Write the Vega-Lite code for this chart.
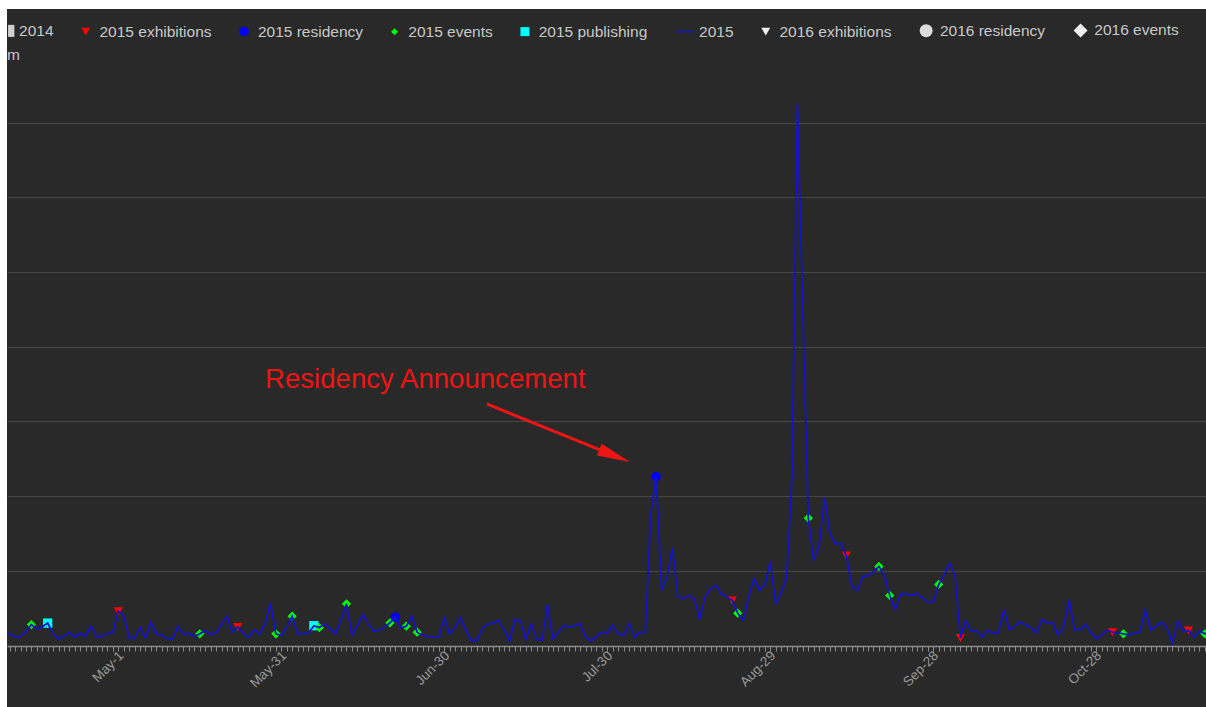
{
  "$schema": "https://vega.github.io/schema/vega-lite/v6.json",
  "width": 1199,
  "height": 698,
  "autosize": {"type": "none"},
  "padding": {"left": 7, "top": 9, "right": 0, "bottom": 0},
  "background": "#ffffff",
  "config": {
    "font": "Liberation Sans",
    "view": {"fill": "#292929", "stroke": null}
  },
  "datasets": {
    "notes": [
      {"label": "Residency Announcement", "d": "2015-05-27T00:00:00Z", "v": 344.7},
      {"label": "m", "d": "2015-04-09T12:20:00Z", "v": 783.8}
    ],
    "arrow": [
      {"d": "2015-07-06T20:40:00Z", "v": 323.3, "d2": "2015-07-30T15:07:00Z", "v2": 253.1}
    ],
    "arrowhead": [
      {"d": "2015-08-02T04:20:00Z", "v": 245.6}
    ]
  },
  "data": {"values": [
    {"d":"2015-04-09","v":20},{"d":"2015-04-10","v":15},{"d":"2015-04-11","v":12},{"d":"2015-04-12","v":12},{"d":"2015-04-13","v":19},
    {"d":"2015-04-14","v":28,"s":"2015 events"},{"d":"2015-04-15","v":22},{"d":"2015-04-16","v":25},{"d":"2015-04-17","v":30,"s":"2015 publishing"},
    {"d":"2015-04-18","v":16},{"d":"2015-04-19","v":8.5},{"d":"2015-04-20","v":12.5},{"d":"2015-04-21","v":18},{"d":"2015-04-22","v":11},
    {"d":"2015-04-23","v":16.5},{"d":"2015-04-24","v":12.5},{"d":"2015-04-25","v":26},{"d":"2015-04-26","v":12},{"d":"2015-04-27","v":12},
    {"d":"2015-04-28","v":16},{"d":"2015-04-29","v":17.5},{"d":"2015-04-30","v":46,"s":"2015 exhibitions"},
    {"d":"2015-05-01","v":40},{"d":"2015-05-02","v":10},{"d":"2015-05-03","v":10},{"d":"2015-05-04","v":24},{"d":"2015-05-05","v":10},
    {"d":"2015-05-06","v":31},{"d":"2015-05-07","v":15.6},{"d":"2015-05-08","v":14.3},{"d":"2015-05-09","v":9},{"d":"2015-05-10","v":8.5},
    {"d":"2015-05-11","v":25.5},{"d":"2015-05-12","v":14.7},{"d":"2015-05-13","v":16.5},{"d":"2015-05-14","v":12},{"d":"2015-05-15","v":15.6,"s":"2015 events"},
    {"d":"2015-05-16","v":20},{"d":"2015-05-17","v":14.7},{"d":"2015-05-18","v":17},{"d":"2015-05-19","v":28},{"d":"2015-05-20","v":39},
    {"d":"2015-05-21","v":18},{"d":"2015-05-22","v":24.6,"s":"2015 exhibitions"},{"d":"2015-05-23","v":16.5},{"d":"2015-05-24","v":11},
    {"d":"2015-05-25","v":21},{"d":"2015-05-26","v":15.6},{"d":"2015-05-27","v":29},{"d":"2015-05-28","v":56.7},{"d":"2015-05-29","v":15.6,"s":"2015 events"},
    {"d":"2015-05-30","v":13.4},{"d":"2015-05-31","v":24},
    {"d":"2015-06-01","v":39.3,"s":"2015 events"},{"d":"2015-06-02","v":15.7},{"d":"2015-06-03","v":15.5},{"d":"2015-06-04","v":16.5},
    {"d":"2015-06-05","v":26.5,"s":"2015 publishing"},{"d":"2015-06-06","v":24,"s":"2015 events"},{"d":"2015-06-07","v":29},{"d":"2015-06-08","v":22.3},
    {"d":"2015-06-09","v":15.6},{"d":"2015-06-10","v":33.5},{"d":"2015-06-11","v":55.8,"s":"2015 events"},{"d":"2015-06-12","v":13.4},
    {"d":"2015-06-13","v":26.8},{"d":"2015-06-14","v":41.5},{"d":"2015-06-15","v":29},{"d":"2015-06-16","v":19.2},{"d":"2015-06-17","v":20.1},
    {"d":"2015-06-18","v":24.6},{"d":"2015-06-19","v":30.4,"s":"2015 events"},{"d":"2015-06-20","v":38,"s":"2015 residency"},{"d":"2015-06-21","v":23.7},
    {"d":"2015-06-22","v":25.9,"s":"2015 events"},{"d":"2015-06-23","v":38.9},{"d":"2015-06-24","v":17.9,"s":"2015 events"},{"d":"2015-06-25","v":13.4},
    {"d":"2015-06-26","v":12.1},{"d":"2015-06-27","v":11.2},{"d":"2015-06-28","v":11.2},{"d":"2015-06-29","v":37.1},{"d":"2015-06-30","v":15.6},
    {"d":"2015-07-01","v":24.6},{"d":"2015-07-02","v":37.1},{"d":"2015-07-03","v":20.1},{"d":"2015-07-04","v":6.7},{"d":"2015-07-05","v":6.7},
    {"d":"2015-07-06","v":23},{"d":"2015-07-07","v":28.5},{"d":"2015-07-08","v":30},{"d":"2015-07-09","v":34},{"d":"2015-07-10","v":21},
    {"d":"2015-07-11","v":6},{"d":"2015-07-12","v":34.4},{"d":"2015-07-13","v":33.5},{"d":"2015-07-14","v":7.8},{"d":"2015-07-15","v":29},
    {"d":"2015-07-16","v":8},{"d":"2015-07-17","v":7},{"d":"2015-07-18","v":55.5},{"d":"2015-07-19","v":8.9},{"d":"2015-07-20","v":17.9},
    {"d":"2015-07-21","v":26.8},{"d":"2015-07-22","v":25},{"d":"2015-07-23","v":26.4},{"d":"2015-07-24","v":29.5},{"d":"2015-07-25","v":11.2},
    {"d":"2015-07-26","v":6},{"d":"2015-07-27","v":12.1},{"d":"2015-07-28","v":17.9},{"d":"2015-07-29","v":16.5},{"d":"2015-07-30","v":27.7},
    {"d":"2015-07-31","v":15.5},
    {"d":"2015-08-01","v":13.4},{"d":"2015-08-02","v":29.5},{"d":"2015-08-03","v":11.2},{"d":"2015-08-04","v":17.9},{"d":"2015-08-05","v":17.9},
    {"d":"2015-08-06","v":176},{"d":"2015-08-07","v":226,"s":"2015 residency"},{"d":"2015-08-08","v":73.7},{"d":"2015-08-09","v":91.6},
    {"d":"2015-08-10","v":131},{"d":"2015-08-11","v":64.8},{"d":"2015-08-12","v":62.5},{"d":"2015-08-13","v":67},{"d":"2015-08-14","v":62.5},
    {"d":"2015-08-15","v":35.7},{"d":"2015-08-16","v":64.8},{"d":"2015-08-17","v":75.9},{"d":"2015-08-18","v":80.4},{"d":"2015-08-19","v":69.2},
    {"d":"2015-08-20","v":64.8},{"d":"2015-08-21","v":60.3,"s":"2015 exhibitions"},{"d":"2015-08-22","v":43.3,"s":"2015 events"},{"d":"2015-08-23","v":33.5},
    {"d":"2015-08-24","v":64.8},{"d":"2015-08-25","v":89.3},{"d":"2015-08-26","v":73.7},{"d":"2015-08-27","v":81.7},{"d":"2015-08-28","v":111.6},
    {"d":"2015-08-29","v":55.8},{"d":"2015-08-30","v":71.5},{"d":"2015-08-31","v":89.3},
    {"d":"2015-09-01","v":228},{"d":"2015-09-02","v":725},{"d":"2015-09-03","v":445},{"d":"2015-09-04","v":170.6,"s":"2015 events"},
    {"d":"2015-09-05","v":113.9},{"d":"2015-09-06","v":134},{"d":"2015-09-07","v":197.9},{"d":"2015-09-08","v":149.6},{"d":"2015-09-09","v":136.2},
    {"d":"2015-09-10","v":136.2},{"d":"2015-09-11","v":120.6,"s":"2015 exhibitions"},{"d":"2015-09-12","v":80.4},{"d":"2015-09-13","v":73.7},
    {"d":"2015-09-14","v":91.6},{"d":"2015-09-15","v":93.8},{"d":"2015-09-16","v":98.3},{"d":"2015-09-17","v":105.9,"s":"2015 events"},
    {"d":"2015-09-18","v":93.8},{"d":"2015-09-19","v":67,"s":"2015 events"},{"d":"2015-09-20","v":47.8},{"d":"2015-09-21","v":69.2},
    {"d":"2015-09-22","v":69.2},{"d":"2015-09-23","v":67},{"d":"2015-09-24","v":69.2},{"d":"2015-09-25","v":63.9},{"d":"2015-09-26","v":58.1},
    {"d":"2015-09-27","v":58.1},{"d":"2015-09-28","v":81.7,"s":"2015 events"},{"d":"2015-09-29","v":93.8},{"d":"2015-09-30","v":110.3},
    {"d":"2015-10-01","v":93.8},{"d":"2015-10-02","v":10,"s":"2015 exhibitions"},{"d":"2015-10-03","v":33},{"d":"2015-10-04","v":19.2},
    {"d":"2015-10-05","v":19.6},{"d":"2015-10-06","v":11.2},{"d":"2015-10-07","v":20.1},{"d":"2015-10-08","v":16.5},{"d":"2015-10-09","v":17},
    {"d":"2015-10-10","v":47.8},{"d":"2015-10-11","v":21},{"d":"2015-10-12","v":25.5},{"d":"2015-10-13","v":31.3},{"d":"2015-10-14","v":27.7},
    {"d":"2015-10-15","v":24.6},{"d":"2015-10-16","v":16.5},{"d":"2015-10-17","v":34.8},{"d":"2015-10-18","v":30.4},{"d":"2015-10-19","v":30.4},
    {"d":"2015-10-20","v":14.3},{"d":"2015-10-21","v":24.6},{"d":"2015-10-22","v":61.2},{"d":"2015-10-23","v":21},{"d":"2015-10-24","v":21},
    {"d":"2015-10-25","v":28.1},{"d":"2015-10-26","v":17.9},{"d":"2015-10-27","v":8.9},{"d":"2015-10-28","v":14.3},{"d":"2015-10-29","v":20.1},
    {"d":"2015-10-30","v":17.9,"s":"2015 exhibitions"},{"d":"2015-10-31","v":17},
    {"d":"2015-11-01","v":15.6,"s":"2015 events"},{"d":"2015-11-02","v":14.7},{"d":"2015-11-03","v":16.5},{"d":"2015-11-04","v":17.9},
    {"d":"2015-11-05","v":46.9},{"d":"2015-11-06","v":21},{"d":"2015-11-07","v":25.5},{"d":"2015-11-08","v":30.8},{"d":"2015-11-09","v":23.7},
    {"d":"2015-11-10","v":3.1},{"d":"2015-11-11","v":32.6},{"d":"2015-11-12","v":19.2},{"d":"2015-11-13","v":20.1,"s":"2015 exhibitions"},
    {"d":"2015-11-14","v":11.2},{"d":"2015-11-15","v":19.2},{"d":"2015-11-16","v":15.6,"s":"2015 events"},{"d":"2015-11-17","v":18}
  ]},
  "encoding": {
    "x": {
      "field": "d", "type": "temporal",
      "scale": {"type": "utc", "domain": [
        {"year": 2015, "month": "apr", "date": 9, "hours": 12, "minutes": 20, "utc": true},
        {"year": 2015, "month": "nov", "date": 16, "hours": 4, "minutes": 50, "utc": true}
      ]},
      "axis": {
        "title": null, "grid": false, "offset": -61,
        "tickCount": {"interval": "day", "step": 1},
        "labelExpr": "((datum.value - utc(2015,4,1)) / 86400000) % 30 === 0 ? utcFormat(datum.value, '%b-%-d') : ''",
        "labelAngle": -45, "labelAlign": "right", "labelBaseline": "alphabetic",
        "labelOverlap": false, "labelBound": false, "labelFlush": false,
        "labelColor": "#9a9a9a", "labelFont": "Liberation Sans", "labelFontSize": 13.5, "labelPadding": 5,
        "tickColor": "#8c8c8c", "tickSize": 5, "tickWidth": 1,
        "domainColor": "#8c8c8c", "domainWidth": 1.5
      }
    },
    "y": {
      "field": "v", "type": "quantitative",
      "scale": {"domain": [-82.3, 852], "nice": false, "zero": false},
      "axis": {"title": null, "values": [0, 100, 200, 300, 400, 500, 600, 700], "labels": false, "ticks": false, "domain": false, "grid": true, "gridColor": "#474747", "gridWidth": 1}
    }
  },
  "layer": [
    {
      "transform": [{"filter": "isValid(datum.s)"}],
      "mark": {"type": "point", "filled": true, "size": 86, "opacity": 1, "clip": true},
      "encoding": {
        "color": {
          "field": "s", "type": "nominal",
          "scale": {
            "domain": ["2014", "2015 exhibitions", "2015 residency", "2015 events", "2015 publishing", "2015", "2016 exhibitions", "2016 residency", "2016 events"],
            "range": ["#d0d0d0", "#ff0000", "#0000ff", "#00ff00", "#00ffff", "#1a1aa0", "#f0f0f0", "#dcdcdc", "#f0f0f0"]
          },
          "legend": {
            "title": null, "orient": "none", "legendX": -9.4, "legendY": 13.5,
            "direction": "horizontal", "columns": 9, "padding": 0,
            "symbolSize": 324, "labelOffset": 6, "columnPadding": 23.4,
            "labelFont": "Liberation Sans", "labelFontSize": 15.5, "labelColor": "#c8c8c8", "labelLimit": 0,
            "symbolOpacity": 1,
            "encode": {
              "symbols": {
                "update": {
                  "size": {"signal": "datum.value === '2014' || datum.value === '2015' ? 324 : datum.value === '2016 residency' ? 169 : datum.value === '2016 events' ? 196 : datum.value === '2015 events' ? 49 : datum.value === '2015 residency' ? 90 : 81"},
                  "stroke": {"signal": "datum.value === '2015' ? '#1a1aa0' : 'transparent'"},
                  "strokeWidth": {"value": 2}
                }
              }
            }
          }
        },
        "shape": {
          "field": "s", "type": "nominal",
          "scale": {
            "domain": ["2014", "2015 exhibitions", "2015 residency", "2015 events", "2015 publishing", "2015", "2016 exhibitions", "2016 residency", "2016 events"],
            "range": ["M0.3,-0.667H1V0.667H0.3Z", "triangle-down", "circle", "diamond", "square", "stroke", "triangle-down", "circle", "diamond"]
          }
        }
      }
    },
    {
      "mark": {"type": "line", "color": "#1414c8", "strokeWidth": 1.8, "clip": true}
    },
    {
      "data": {"name": "arrow"},
      "mark": {"type": "rule", "color": "#f01414", "strokeWidth": 3},
      "encoding": {
        "x2": {"field": "d2"},
        "y2": {"field": "v2"}
      }
    },
    {
      "data": {"name": "arrowhead"},
      "mark": {"type": "point", "filled": true, "opacity": 1, "color": "#f01414", "shape": "M0,0L-2.2,-0.42L-2.2,0.42Z", "size": 900, "angle": 22}
    },
    {
      "data": {"name": "notes"},
      "mark": {"type": "text", "font": "Liberation Sans", "align": "left", "baseline": "alphabetic"},
      "encoding": {
        "text": {"field": "label"},
        "color": {"condition": {"test": "datum.label === 'm'", "value": "#c8c8c8"}, "value": "#f01414"},
        "size": {"condition": {"test": "datum.label === 'm'", "value": 15.5}, "value": 27.6}
      }
    }
  ]
}
